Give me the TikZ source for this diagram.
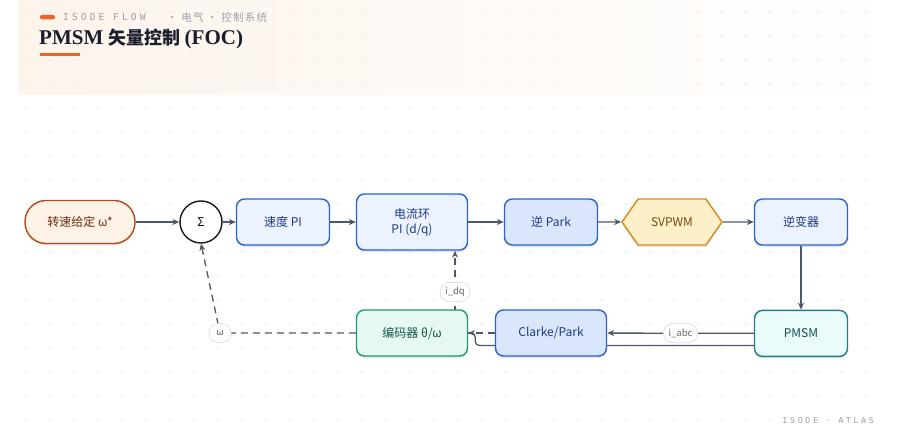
\documentclass[tikz,border=0pt]{standalone}
\usepackage{fontspec}
\setmainfont{Noto Sans CJK SC}
\newfontfamily\titlefont{Liberation Serif}
\newfontfamily\capsfont{DejaVu Sans Mono}[LetterSpace=33]
\newfontfamily\crumbfont{Noto Sans CJK SC}[LetterSpace=12]
\usepackage{tikz}
\usetikzlibrary{arrows.meta,positioning,shapes.symbols,shadows,backgrounds}

\definecolor{accent}{RGB}{232,100,40}
\definecolor{ink}{RGB}{26,30,44}
\definecolor{capgray}{RGB}{158,158,164}
\definecolor{dotgray}{RGB}{222,222,224}
\definecolor{hdrpeach}{RGB}{253,244,236}
\definecolor{wire}{RGB}{78,88,104}
\definecolor{ctlblue}{RGB}{43,96,214}
\definecolor{ctlfill}{RGB}{236,243,254}
\definecolor{ctlfilldk}{RGB}{218,230,251}
\definecolor{ctltext}{RGB}{30,58,138}
\definecolor{refline}{RGB}{180,74,28}
\definecolor{reffill}{RGB}{253,242,230}
\definecolor{reftext}{RGB}{110,42,14}
\definecolor{pwmline}{RGB}{212,138,30}
\definecolor{pwmfill}{RGB}{253,239,199}
\definecolor{pwmtext}{RGB}{120,72,10}
\definecolor{motline}{RGB}{30,127,134}
\definecolor{motfill}{RGB}{233,251,251}
\definecolor{mottext}{RGB}{19,78,85}
\definecolor{encline}{RGB}{31,154,124}
\definecolor{encfill}{RGB}{230,248,242}
\definecolor{enctext}{RGB}{20,88,74}

\begin{document}
\begin{tikzpicture}[
  x=1pt, y=-1pt,
  blk/.style={rectangle, draw=ctlblue, line width=1.4pt, rounded corners=8pt, fill=ctlfill, text=ctltext,
    font=\fontsize{12}{15}\selectfont, minimum width=93pt, minimum height=46pt, align=center,
    drop shadow={shadow xshift=0pt, shadow yshift=-2pt, opacity=0.10, fill=black}},
  pill/.style={blk, draw=refline, fill=reffill, text=reftext, rounded corners=21pt, minimum width=110pt, minimum height=43pt},
  hexa/.style={blk, shape=signal, signal to=east and west, signal pointer angle=110, rounded corners=0pt,
    draw=pwmline, fill=pwmfill, text=pwmtext, minimum width=100pt},
  motor/.style={blk, draw=motline, fill=motfill, text=mottext},
  encbox/.style={blk, draw=encline, fill=encfill, text=enctext, minimum width=111pt},
  sumc/.style={circle, draw=black!90, line width=1.4pt, fill=white, minimum size=42pt, inner sep=0pt, font=\fontsize{12}{14}\selectfont},
  tag/.style={rectangle, solid, line width=0.8pt, rounded corners=9pt, draw=black!12, fill=white, text=black!60,
    font=\fontsize{9.5}{11}\selectfont, inner xsep=5pt, inner ysep=2pt, minimum height=19pt, minimum width=22pt},
  flow/.style={draw=wire, line width=1.3pt, -{Stealth[length=7pt, width=6pt]}},
  fb/.style={flow, dashed, dash pattern=on 7pt off 5pt},
]
\useasboundingbox (0,0) rectangle (900,436);

% header band and dot grid
\begin{scope}[on background layer]
  \fill[left color=hdrpeach, right color=white!97!hdrpeach] (18,0) rectangle (885,95);
  \foreach \gx in {26,50,...,866}
    \foreach \gy in {12,36,...,420}
      \fill[dotgray] (\gx,\gy) circle (0.9);
\end{scope}

\fill[accent, rounded corners=2pt] (40,15) rectangle (55,19.5);
\node[anchor=west, inner sep=0pt, text=capgray, font=\capsfont\fontsize{9.5}{10}\selectfont] (brand) at (63,17.5) {ISODE FLOW};
\node[anchor=west, inner sep=0pt, text=capgray, font=\crumbfont\fontsize{10.5}{11}\selectfont] (crumb) at (167,17.5) {· 电气 · 控制系统};
\node[anchor=west, inner sep=0pt, text=ink] (title) at (39,39)
  {{\titlefont\bfseries\fontsize{21}{24}\selectfont PMSM }{\bfseries\fontsize{18}{22}\selectfont 矢量控制 }{\titlefont\bfseries\fontsize{21}{24}\selectfont(FOC)}};
\fill[accent] (40,53.5) rectangle (80,56);
\node[anchor=east, inner sep=0pt, text=capgray, font=\capsfont\fontsize{8.2}{9}\selectfont] (foot) at (874,421) {ISODE · ATLAS};

% forward path
\node[pill] (goal) at (80,222) {转速给定 ω*};
\node[sumc] (sum) at (201,222) {Σ};
\node[blk] (spd) at (283,222) {速度 PI};
\node[blk, minimum width=111pt, minimum height=56pt] (cur) at (412,222) {电流环\\PI (d/q)};
\node[blk, fill=ctlfilldk] (ipark) at (551,222) {逆 Park};
\node[hexa] (svp) at (672,222) {SVPWM};
\node[blk] (inv) at (801,222) {逆变器};

% measurement path
\node[motor, below=64pt of inv] (pmsm) {PMSM};
\node[blk, fill=ctlfilldk, minimum width=111pt] (clk) at (551,333) {Clarke/Park};
\node[encbox] (enc) at (412,333) {编码器 θ/ω};
\coordinate (wk) at (220,333);

\draw[flow] (goal) -- (sum);
\draw[flow] (sum) -- (spd);
\draw[flow] (spd) -- (cur);
\draw[flow] (cur) -- (ipark);
\draw[flow] (ipark) -- (svp);
\draw[flow] (svp) -- (inv);
\draw[flow] (inv) -- (pmsm);
\draw[flow] (pmsm) -- node[tag] {i\_abc} (clk);
\draw[fb] (enc.west) -- (wk) node[tag] {ω} -- (sum.south);

% these two run behind the boxes
\begin{scope}[on background layer]
  \draw[flow, rounded corners=4pt] ([yshift=-12pt]pmsm.west) -| ([xshift=7pt]enc.east) -- (enc.east);
  \draw[fb] (clk.west) -| node[tag, pos=0.75] {i\_dq} ([xshift=43pt]cur.south);
\end{scope}
\end{tikzpicture}
\end{document}
